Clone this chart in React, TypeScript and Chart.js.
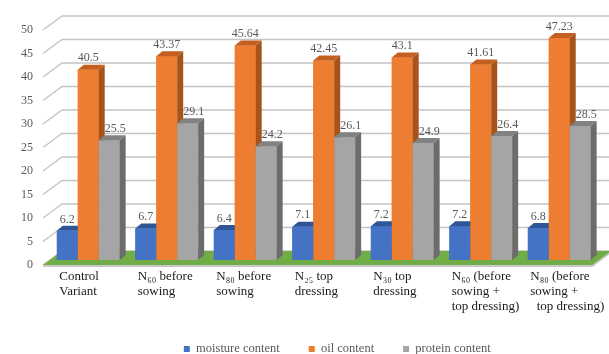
import React, { useEffect, useRef } from 'react';
import { Chart, registerables } from 'chart.js';

Chart.register(...registerables);

// ---- data ----
const categories: string[][] = [
  ['Control', 'Variant'],
  ['N₆₀ before', 'sowing'],
  ['N₈₀ before', 'sowing'],
  ['N₂₅ top', 'dressing'],
  ['N₃₀ top', 'dressing'],
  ['N₆₀ (before', 'sowing +', 'top dressing)'],
  ['N₈₀ (before', 'sowing +', '  top dressing)'],
];
const moisture = [6.2, 6.7, 6.4, 7.1, 7.2, 7.2, 6.8];
const oil = [40.5, 43.37, 45.64, 42.45, 43.1, 41.61, 47.23];
const protein = [25.5, 29.1, 24.2, 26.1, 24.9, 26.4, 28.5];
const seriesNames = ['moisture content', 'oil content', 'protein content'];
const yMin = 0;
const yMax = 50;
const yStep = 5;

// ---- styles ----
const frontColors = ['#4472c4', '#ed7d31', '#a5a5a5'];
const topColors = ['#2f5597', '#c4601f', '#828282'];
const sideColors = ['#2b4f8c', '#a6541c', '#6c6c6c'];
const labelShiftX = [0, 0, 6];
const SERIF = '"Liberation Serif", "Times New Roman", serif';

const BAR_DX = 6;
const BAR_DY = 5;
const BACK_DX = 13;
const BACK_DY = 9;
const FRONT_DX = 6;
const FRONT_DY = 5;
const LEGEND_SHIFT = 38;

const walls3d = {
  id: 'walls3d',
  afterLayout(chart: any) {
    const lg = chart.legend;
    if (lg) {
      lg.left += LEGEND_SHIFT;
      lg.right += LEGEND_SHIFT;
    }
  },
  beforeDatasetsDraw(chart: any) {
    const { ctx, chartArea, scales } = chart;
    const ys = scales.y;
    const L = chartArea.left;
    const R = chartArea.right;
    ctx.save();
    ctx.strokeStyle = '#c4c4c4';
    ctx.lineWidth = 1.3;
    ys.ticks.forEach((t: any) => {
      const py = ys.getPixelForValue(t.value);
      ctx.beginPath();
      ctx.moveTo(L - FRONT_DX, py + FRONT_DY);
      ctx.lineTo(L + BACK_DX, py - BACK_DY);
      ctx.lineTo(R + BACK_DX + 30, py - BACK_DY);
      ctx.stroke();
    });
    const p0 = ys.getPixelForValue(0);
    // floor thickness edge
    ctx.fillStyle = '#c8c8c8';
    ctx.beginPath();
    ctx.moveTo(L - FRONT_DX, p0 + FRONT_DY);
    ctx.lineTo(R - FRONT_DX, p0 + FRONT_DY);
    ctx.lineTo(R + BACK_DX, p0 - BACK_DY);
    ctx.lineTo(R + BACK_DX, p0 - BACK_DY + 2);
    ctx.lineTo(R - FRONT_DX, p0 + FRONT_DY + 2);
    ctx.lineTo(L - FRONT_DX, p0 + FRONT_DY + 2);
    ctx.closePath();
    ctx.fill();
    // floor
    ctx.fillStyle = '#70ad47';
    ctx.beginPath();
    ctx.moveTo(L - FRONT_DX, p0 + FRONT_DY);
    ctx.lineTo(R - FRONT_DX, p0 + FRONT_DY);
    ctx.lineTo(R + BACK_DX, p0 - BACK_DY);
    ctx.lineTo(L + BACK_DX, p0 - BACK_DY);
    ctx.closePath();
    ctx.fill();
    ctx.restore();
  },
  afterDatasetsDraw(chart: any) {
    const { ctx } = chart;
    const n = chart.data.labels.length;
    const nd = chart.data.datasets.length;
    ctx.save();
    for (let i = 0; i < n; i++) {
      for (let d = 0; d < nd; d++) {
        const el = chart.getDatasetMeta(d).data[i];
        if (!el) continue;
        const { x, y, base, width } = el.getProps(['x', 'y', 'base', 'width'], true);
        const l = x - width / 2;
        const r = x + width / 2;
        // front
        ctx.fillStyle = frontColors[d];
        ctx.fillRect(l, y, r - l, base - y);
        // top
        ctx.fillStyle = topColors[d];
        ctx.beginPath();
        ctx.moveTo(l, y);
        ctx.lineTo(r, y);
        ctx.lineTo(r + BAR_DX, y - BAR_DY);
        ctx.lineTo(l + BAR_DX, y - BAR_DY);
        ctx.closePath();
        ctx.fill();
        // side
        ctx.fillStyle = sideColors[d];
        ctx.beginPath();
        ctx.moveTo(r, y);
        ctx.lineTo(r + BAR_DX, y - BAR_DY);
        ctx.lineTo(r + BAR_DX, base - BAR_DY);
        ctx.lineTo(r, base);
        ctx.closePath();
        ctx.fill();
      }
    }
    // value labels
    ctx.font = `12px ${SERIF}`;
    ctx.fillStyle = '#595959';
    ctx.textAlign = 'center';
    ctx.textBaseline = 'middle';
    for (let d = 0; d < nd; d++) {
      const meta = chart.getDatasetMeta(d);
      meta.data.forEach((el: any, i: number) => {
        const { x, y } = el.getProps(['x', 'y'], true);
        const v = chart.data.datasets[d].data[i];
        ctx.fillText(String(v), x + labelShiftX[d], y - 11.5);
      });
    }
    ctx.restore();
  },
};

export default function App() {
  const ref = useRef<HTMLCanvasElement | null>(null);
  useEffect(() => {
    if (!ref.current) return;
    const chart = new Chart(ref.current, {
      type: 'bar',
      data: {
        labels: categories,
        datasets: [moisture, oil, protein].map((arr, k) => ({
          label: seriesNames[k],
          data: arr,
          backgroundColor: frontColors[k],
          borderWidth: 0,
          categoryPercentage: 0.8,
          barPercentage: 1.0,
        })),
      },
      options: {
        animation: false,
        responsive: false,
        devicePixelRatio: 1,
        layout: { padding: { top: 25, right: 10.5, bottom: 0, left: 0 } },
        plugins: {
          tooltip: { enabled: false },
          legend: {
            position: 'bottom',
            maxHeight: 40.25,
            labels: {
              boxWidth: 6,
              boxHeight: 6,
              padding: 29,
              color: '#595959',
              font: { family: SERIF, size: 12.5 },
            },
          },
        },
        scales: {
          x: {
            grid: { display: false, drawTicks: false },
            border: { display: false },
            ticks: {
              autoSkip: false,
              maxRotation: 0,
              minRotation: 0,
              align: 'start',
              labelOffset: -29,
              padding: 9.5,
              color: '#1a1a1a',
              font: { family: SERIF, size: 13, lineHeight: 1.13 },
            },
            afterFit: (s: any) => {
              s.height = 53.75;
              s.paddingLeft = 0;
              s.paddingRight = 0;
            },
          },
          y: {
            min: yMin,
            max: yMax,
            grid: { display: false, drawTicks: false },
            border: { display: false },
            ticks: {
              stepSize: yStep,
              padding: 16,
              labelOffset: 5,
              color: '#595959',
              font: { family: SERIF, size: 12 },
            },
            afterFit: (s: any) => {
              s.width = 49;
              s.paddingTop = 0;
              s.paddingBottom = 0;
            },
          },
        },
      },
      plugins: [walls3d],
    } as any);
    return () => chart.destroy();
  }, []);
  return (
    <div style={{ position: 'fixed', left: 0, top: 0, width: 609, height: 354, background: '#fff' }}>
      <canvas ref={ref} width={609} height={354} />
    </div>
  );
}
